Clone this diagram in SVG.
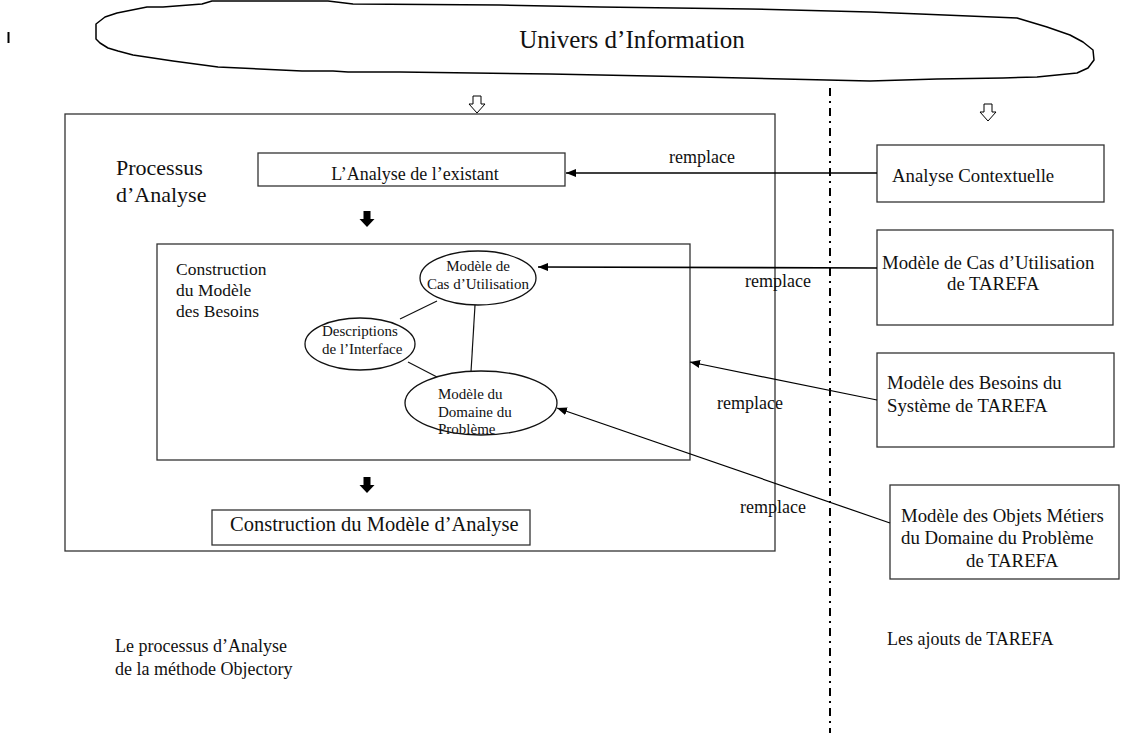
<svg xmlns="http://www.w3.org/2000/svg" width="1125" height="733" viewBox="0 0 1125 733">
  <style>
    text { font-family: "Liberation Serif", "Times New Roman", serif; fill: #111; }
    .box { fill: #fff; stroke: #333; stroke-width: 1.3; }
    .ell { fill: #fff; stroke: #111; stroke-width: 1.3; }
    .link { stroke: #111; stroke-width: 1.2; fill: none; }
    .conn { stroke: #000; fill: none; }
    .t18 { font-size: 18px; }
    .t19 { font-size: 18.8px; }
    .t15 { font-size: 15px; }
  </style>
  <defs>
    <marker id="head" viewBox="0 0 10 8" refX="10" refY="4" markerWidth="10" markerHeight="8" markerUnits="userSpaceOnUse" orient="auto">
      <path d="M0,0 L10,4 L0,8 Z" fill="#000"/>
    </marker>
  </defs>

  <!-- small mark at the left margin -->
  <line x1="8.5" y1="32" x2="8.5" y2="43" stroke="#000" stroke-width="2"/>

  <!-- cloud: information universe -->
  <g id="univers">
    <path d="M96,24 L105,17 L117,13 L147,7 L163,7 L202,4 L212,1 L328,1 L353,4 L500,5 L600,7 L750,9 L870,12 L920,14 L1017,18 L1047,27 L1070,35 L1083,42 L1093,50 L1094,60 L1088,68 L1077,73 L1037,77 L1003,78 L937,79 L870,81 L700,77 L550,74 L400,72 L348,72 L333,71 L302,71 L218,67 L173,61 L133,55 L118,51 L108,48 L100,43 L96,39 Z" fill="#fff" stroke="#000" stroke-width="1.5" stroke-linejoin="round"/>
    <text x="632" y="48" font-size="25" text-anchor="middle">Univers d’Information</text>
  </g>

  <!-- separator between the two halves -->
  <line x1="830" y1="88" x2="830" y2="733" stroke="#000" stroke-width="2" stroke-dasharray="8,5,2,5"/>

  <!-- hollow flow arrows below the cloud -->
  <path d="M473,96 L481,96 L481,104 L485,104 L477,113 L469,104 L473,104 Z" fill="#fff" stroke="#000" stroke-width="1"/>
  <path d="M984,104 L992,104 L992,112 L996,112 L988,121 L980,112 L984,112 Z" fill="#fff" stroke="#000" stroke-width="1"/>

  <!-- Objectory analysis process -->
  <g id="processus">
    <rect class="box" x="65" y="114" width="710" height="437"/>
    <text x="116" y="175" font-size="22">Processus</text>
    <text x="116" y="202" font-size="22">d’Analyse</text>
  </g>

  <g id="analyse-existant">
    <rect class="box" x="258" y="153" width="307" height="33"/>
    <text class="t18" x="415" y="180" text-anchor="middle">L’Analyse de l’existant</text>
  </g>

  <path d="M363.5,211 L370.5,211 L370.5,219 L374.5,219 L367,227 L359.5,219 L363.5,219 Z" fill="#000"/>

  <g id="modele-besoins">
    <rect class="box" x="157" y="244" width="533" height="216"/>
    <text x="176" y="275" font-size="17.5">Construction</text>
    <text x="176" y="296" font-size="17.5">du Modèle</text>
    <text x="176" y="317" font-size="17.5">des Besoins</text>
  </g>

  <!-- links between the requirement models -->
  <g id="liens">
    <line class="link" x1="400" y1="319" x2="437" y2="301"/>
    <line class="link" x1="475" y1="305" x2="471" y2="372"/>
    <line class="link" x1="408" y1="362" x2="437" y2="377"/>
  </g>

  <g id="cas-utilisation">
    <ellipse class="ell" cx="478" cy="278" rx="58" ry="27"/>
    <text class="t15" x="478" y="271" text-anchor="middle">Modèle de</text>
    <text class="t15" x="478" y="289" text-anchor="middle">Cas d’Utilisation</text>
  </g>

  <g id="descriptions-interface">
    <ellipse class="ell" cx="360" cy="344" rx="55" ry="26"/>
    <text class="t15" x="322" y="336">Descriptions</text>
    <text class="t15" x="322" y="354">de l’Interface</text>
  </g>

  <g id="domaine-probleme">
    <ellipse class="ell" cx="481" cy="403" rx="76" ry="32"/>
    <text class="t15" x="438" y="399">Modèle du</text>
    <text class="t15" x="438" y="417">Domaine du</text>
    <text class="t15" x="438" y="434">Problème</text>
  </g>

  <path d="M363.5,477 L370.5,477 L370.5,485 L374.5,485 L367,493 L359.5,485 L363.5,485 Z" fill="#000"/>

  <g id="modele-analyse">
    <rect class="box" x="212" y="510" width="318" height="35"/>
    <text x="230" y="531" font-size="20.5">Construction du Modèle d’Analyse</text>
  </g>

  <!-- TAREFA additions -->
  <g id="analyse-contextuelle">
    <rect class="box" x="877" y="145" width="227" height="57"/>
    <text class="t19" x="892" y="182">Analyse Contextuelle</text>
  </g>

  <g id="cas-tarefa">
    <rect class="box" x="877" y="230" width="236" height="95"/>
    <text class="t19" x="882" y="269">Modèle de Cas d’Utilisation</text>
    <text class="t19" x="947" y="290">de TAREFA</text>
  </g>

  <g id="besoins-tarefa">
    <rect class="box" x="877" y="353" width="237" height="94"/>
    <text class="t19" x="887" y="389">Modèle des Besoins du</text>
    <text class="t19" x="887" y="412">Système de TAREFA</text>
  </g>

  <g id="objets-tarefa">
    <rect class="box" x="890" y="485" width="229" height="94"/>
    <text class="t19" x="901" y="522">Modèle des Objets Métiers</text>
    <text class="t19" x="901" y="544">du Domaine du Problème</text>
    <text class="t19" x="966" y="567">de TAREFA</text>
  </g>

  <!-- "remplace" connectors -->
  <g id="connecteurs">
    <line class="conn" x1="877" y1="173" x2="566" y2="173" stroke-width="1.6" marker-end="url(#head)"/>
    <line class="conn" x1="877" y1="268" x2="538" y2="267" stroke-width="1.6" marker-end="url(#head)"/>
    <line class="conn" x1="877" y1="400" x2="690" y2="362" stroke-width="1.2" marker-end="url(#head)"/>
    <line class="conn" x1="890" y1="523" x2="557" y2="408" stroke-width="1.2" marker-end="url(#head)"/>
    <text class="t18" x="669" y="163">remplace</text>
    <text class="t18" x="745" y="287">remplace</text>
    <text class="t18" x="717" y="409">remplace</text>
    <text class="t18" x="740" y="513">remplace</text>
  </g>

  <!-- captions -->
  <text class="t18" x="115" y="652">Le processus d’Analyse</text>
  <text class="t18" x="115" y="675">de la méthode Objectory</text>
  <text class="t18" x="887" y="645">Les ajouts de TAREFA</text>
</svg>
